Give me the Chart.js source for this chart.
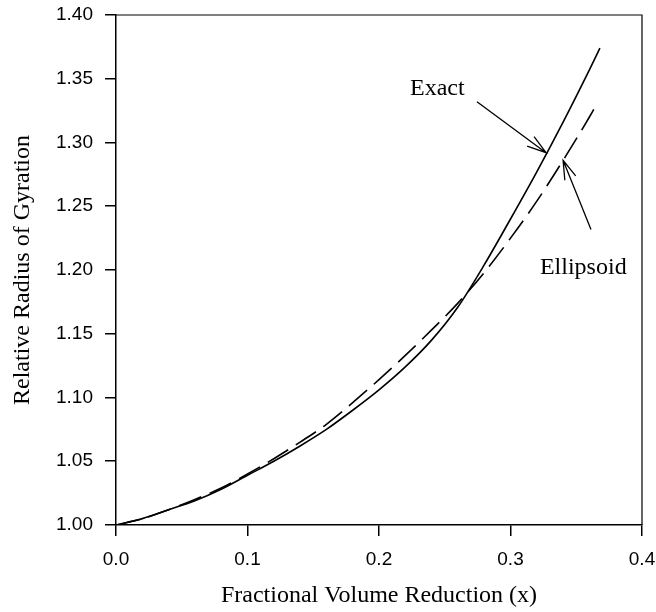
<!DOCTYPE html>
<html>
<head>
<meta charset="utf-8">
<script src="https://cdn.jsdelivr.net/npm/chart.js@4.4.1/dist/chart.umd.min.js"></script>
<style>
    html, body { margin: 0; padding: 0; background: #fff; }
</style>
</head>
<body>
<canvas id="gyrationChart" width="656" height="612"></canvas>
<script>
// values
const exactX = [0, 0.02, 0.04, 0.06, 0.08, 0.10, 0.12, 0.14, 0.16, 0.18, 0.20, 0.22, 0.24, 0.26, 0.28, 0.30, 0.32, 0.34, 0.36, 0.368];
const exactY = [1.000, 1.005, 1.012, 1.019, 1.028, 1.039, 1.050, 1.062, 1.075, 1.090, 1.106, 1.124, 1.145, 1.171, 1.204, 1.240, 1.277, 1.316, 1.357, 1.374];

const ellipsoidX = [0, 0.02, 0.04, 0.06, 0.08, 0.10, 0.12, 0.14, 0.16, 0.18, 0.20, 0.22, 0.24, 0.26, 0.28, 0.30, 0.32, 0.34, 0.36, 0.366];
const ellipsoidY = [1.000, 1.005, 1.012, 1.020, 1.029, 1.040, 1.052, 1.065, 1.079, 1.096, 1.114, 1.133, 1.153, 1.174, 1.198, 1.225, 1.254, 1.286, 1.320, 1.331];

const xTicks = [0.0, 0.1, 0.2, 0.3, 0.4];
const yTicks = [1.00, 1.05, 1.10, 1.15, 1.20, 1.25, 1.30, 1.35, 1.40];

const toPoints = (xs, ys) => xs.map((x, i) => ({ x: x, y: ys[i] }));

// labels with arrows, in data units
const callouts = [
    { text: 'Exact', tx: 0.2236, ty: 1.3376, from: [0.2745, 1.332], to: [0.327, 1.292] },
    { text: 'Ellipsoid', tx: 0.3224, ty: 1.1965, from: [0.3612, 1.2318], to: [0.340, 1.286] }
];

const tickFont = { family: '"Liberation Sans", Arial, sans-serif', size: 19 };
const titleFont = { family: '"Liberation Serif", "Times New Roman", serif', size: 24 };

const framePlugin = {
    id: 'frame',
    afterDraw(chart) {
        const { ctx, chartArea } = chart;
        ctx.save();
        ctx.strokeStyle = '#000';
        ctx.lineWidth = 1.2;
        ctx.beginPath();
        ctx.moveTo(chartArea.left, chartArea.top);
        ctx.lineTo(chartArea.right, chartArea.top);
        ctx.lineTo(chartArea.right, chartArea.bottom);
        ctx.stroke();
        ctx.restore();
    }
};

const calloutPlugin = {
    id: 'callouts',
    afterDatasetsDraw(chart) {
        const { ctx, scales } = chart;
        ctx.save();
        ctx.strokeStyle = '#000';
        ctx.fillStyle = '#000';
        ctx.lineWidth = 1.3;
        ctx.font = '24px "Liberation Serif", "Times New Roman", serif';
        ctx.textAlign = 'left';
        ctx.textBaseline = 'alphabetic';
        callouts.forEach(c => {
            ctx.fillText(c.text, scales.x.getPixelForValue(c.tx), scales.y.getPixelForValue(c.ty));
            const x0 = scales.x.getPixelForValue(c.from[0]);
            const y0 = scales.y.getPixelForValue(c.from[1]);
            const x1 = scales.x.getPixelForValue(c.to[0]);
            const y1 = scales.y.getPixelForValue(c.to[1]);
            const ang = Math.atan2(y0 - y1, x0 - x1);
            const barb = 20, spread = 17 * Math.PI / 180;
            ctx.beginPath();
            ctx.moveTo(x0, y0);
            ctx.lineTo(x1, y1);
            ctx.moveTo(x1 + barb * Math.cos(ang + spread), y1 + barb * Math.sin(ang + spread));
            ctx.lineTo(x1, y1);
            ctx.lineTo(x1 + barb * Math.cos(ang - spread), y1 + barb * Math.sin(ang - spread));
            ctx.stroke();
        });
        ctx.restore();
    }
};

new Chart(document.getElementById('gyrationChart'), {
    type: 'scatter',
    data: {
        datasets: [{
            label: 'Exact',
            data: toPoints(exactX, exactY),
            showLine: true,
            borderColor: '#000',
            borderWidth: 1.6,
            pointRadius: 0,
            cubicInterpolationMode: 'monotone'
        }, {
            label: 'Ellipsoid',
            data: toPoints(ellipsoidX, ellipsoidY),
            showLine: true,
            borderColor: '#000',
            borderWidth: 1.6,
            borderDash: [24, 9],
            pointRadius: 0,
            cubicInterpolationMode: 'monotone'
        }]
    },
    options: {
        responsive: false,
        animation: false,
        layout: { padding: { top: 15, right: 14, left: 0, bottom: 0 } },
        plugins: {
            legend: { display: false },
            tooltip: { enabled: false }
        },
        scales: {
            x: {
                type: 'linear',
                min: 0,
                max: 0.4,
                afterBuildTicks: (scale) => { scale.ticks = xTicks.map(v => ({ value: v })); },
                afterFit: (scale) => {
                    scale.height = 87;
                    scale.paddingLeft = 0;
                    scale.paddingRight = 0;
                },
                ticks: {
                    color: '#000',
                    font: tickFont,
                    padding: 12,
                    maxRotation: 0,
                    callback: (value) => Number(value).toFixed(1)
                },
                grid: { drawOnChartArea: false, drawTicks: true, tickLength: 11, color: '#000', lineWidth: 1.5 },
                border: { display: true, color: '#000', width: 1.5 },
                title: {
                    display: true,
                    text: 'Fractional Volume Reduction (x)',
                    color: '#000',
                    font: titleFont,
                    padding: { top: 0, bottom: 2 }
                }
            },
            y: {
                type: 'linear',
                min: 1.0,
                max: 1.4,
                afterBuildTicks: (scale) => { scale.ticks = yTicks.map(v => ({ value: v })); },
                afterFit: (scale) => {
                    scale.width = 116;
                    scale.paddingTop = 0;
                    scale.paddingBottom = 0;
                },
                ticks: {
                    color: '#000',
                    font: tickFont,
                    padding: 12,
                    callback: (value) => Number(value).toFixed(2)
                },
                grid: { drawOnChartArea: false, drawTicks: true, tickLength: 11, color: '#000', lineWidth: 1.5 },
                border: { display: true, color: '#000', width: 1.5 },
                title: {
                    display: true,
                    text: 'Relative Radius of Gyration',
                    color: '#000',
                    font: titleFont,
                    padding: { top: 8, bottom: 0 }
                }
            }
        }
    },
    plugins: [framePlugin, calloutPlugin]
});
</script>
</body>
</html>
